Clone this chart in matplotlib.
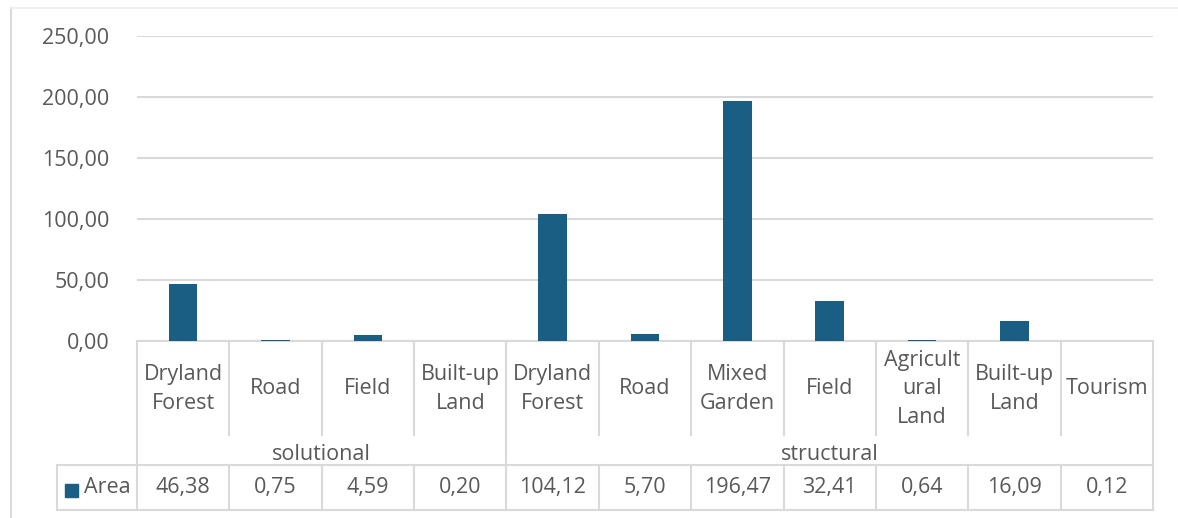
import matplotlib
matplotlib.use("Agg")
from matplotlib import pyplot as plt
from matplotlib import transforms
from matplotlib.patches import Rectangle
from matplotlib.lines import Line2D

# chart data
categories = ["Dryland\nForest", "Road", "Field", "Built-up\nLand",
              "Dryland\nForest", "Road", "Mixed\nGarden", "Field",
              "Agricult\nural\nLand", "Built-up\nLand", "Tourism"]
groups = ["solutional", "structural"]
group_sizes = [4, 7]
area = [46.38, 0.75, 4.59, 0.20, 104.12, 5.70, 196.47, 32.41, 0.64, 16.09, 0.12]
yticks = [0, 50, 100, 150, 200, 250]
series_name = "Area"

W, H = 1178, 518
bar_color = "#1a5f83"
grid_color = "#d9d9d9"
text_color = "#595959"
fs = 15.5

plt.rcParams["font.family"] = ["Open Sans", "DejaVu Sans"]

def comma(v):
    return f"{v:.2f}".replace(".", ",")

fig = plt.figure(figsize=(W / 100, H / 100), dpi=100)
fig.patch.set_facecolor("white")

# plot area in pixels: x 137..1153, y 36..341
ax = fig.add_axes([137 / W, 1 - 341 / H, (1153 - 137) / W, (341 - 36) / H])
n = len(categories)
x = list(range(n))
ax.bar(x, area, width=0.31, color=bar_color, zorder=3)
ax.set_xlim(-0.5, n - 0.5)
ax.set_ylim(0, 250)
ax.set_yticks(yticks)
ax.set_yticklabels([comma(v) for v in yticks], color=text_color, fontsize=fs)
ax.tick_params(axis="y", length=0, pad=20)
ax.set_xticks([])
ax.grid(axis="y", color=grid_color, linewidth=1.5, zorder=0)
for s in ax.spines.values():
    s.set_visible(False)

# table below axis: x in data units, y in figure pixels (from top)
def fy(p):
    return 1 - p / H

tr = transforms.blended_transform_factory(ax.transData, fig.transFigure)
lw = 1.5
y_top, y_cat, y_data, y_bot = 341, 435, 465, 510
left = -0.5
right = n - 0.5
legend_left = -0.5 - 80 / ((1153 - 137) / n)

def hline(x0, x1, yp):
    ax.plot([x0, x1], [fy(yp), fy(yp)], transform=tr, color=grid_color, lw=lw, clip_on=False)

def vline(xv, y0, y1):
    ax.plot([xv, xv], [fy(y0), fy(y1)], transform=tr, color=grid_color, lw=lw, clip_on=False)

hline(left, right, y_top)
hline(legend_left, right, y_data)
hline(legend_left, right, y_bot)
vline(legend_left, y_data, y_bot)

bounds = [0]
for g in group_sizes:
    bounds.append(bounds[-1] + g)
for i in range(n + 1):
    xv = i - 0.5
    if i in bounds:
        vline(xv, y_top, y_bot)
    else:
        vline(xv, y_top, y_cat)
        vline(xv, y_data, y_bot)

for i, (c, v) in enumerate(zip(categories, area)):
    ax.text(i, fy((y_top + y_cat) / 2 + 1), c, transform=tr, ha="center", va="center",
            fontsize=fs, color=text_color, linespacing=1.45)
    ax.text(i, fy((y_data + y_bot) / 2), comma(v), transform=tr, ha="center", va="center",
            fontsize=fs, color=text_color)

for g, a, b in zip(groups, bounds[:-1], bounds[1:]):
    ax.text((a + b - 1) / 2, fy((y_cat + y_data) / 2 + 4), g, transform=tr, ha="center",
            va="center", fontsize=fs, color=text_color)

# legend key in the first column of the data row
ax.add_patch(Rectangle((65 / W, fy(497)), 13 / W, 13 / H, transform=fig.transFigure,
                       color=bar_color, clip_on=False))
fig.text(84 / W, fy((y_data + y_bot) / 2), series_name, ha="left", va="center",
         fontsize=fs, color=text_color)

# outer chart frame (only left and top edges are visible)
fig.lines.append(Line2D([11 / W, 11 / W], [fy(8), 0], transform=fig.transFigure,
                        color=grid_color, lw=1.5))
fig.lines.append(Line2D([11 / W, 1], [fy(8), fy(8)], transform=fig.transFigure,
                        color="#eeeeee", lw=1.2))

fig.savefig("out.png", dpi=100, facecolor="white")
